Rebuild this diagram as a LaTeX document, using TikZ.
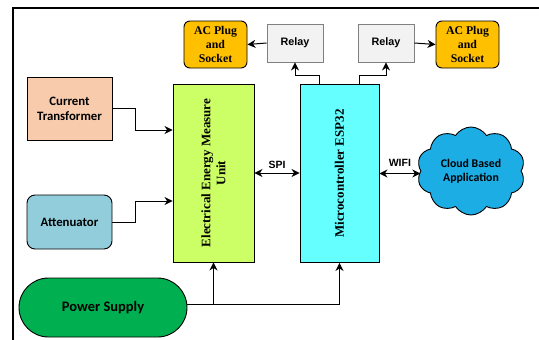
\documentclass[tikz,border=0pt]{standalone}
\usepackage{fontspec}
\setmainfont{Liberation Serif}
\newfontfamily\arialfont{Liberation Sans}
\newfontfamily\calibrifont{Carlito}
\usetikzlibrary{arrows.meta,shapes.symbols,positioning}

\definecolor{plugorange}{HTML}{FFC000}
\definecolor{relaygray}{HTML}{F2F2F2}
\definecolor{ctpeach}{HTML}{F8CBAD}
\definecolor{attblue}{HTML}{92CDDC}
\definecolor{unitlime}{HTML}{CCFF66}
\definecolor{mcucyan}{HTML}{66FFFF}
\definecolor{cloudblue}{HTML}{1CADE4}
\definecolor{psgreen}{HTML}{00B050}

\begin{document}
\begin{tikzpicture}[x=1pt,y=-1pt,
  block/.style={draw=black, line width=0.9pt, inner sep=0pt, align=center},
  plug/.style={block, fill=plugorange, rounded corners=6pt,
    minimum width=63pt, minimum height=47pt,
    font=\fontsize{11.8}{13.7}\selectfont\bfseries},
  relay/.style={block, draw=gray, fill=relaygray,
    minimum width=56pt, minimum height=38pt,
    font=\arialfont\fontsize{10.8}{12}\selectfont\bfseries},
  sensor/.style={block, minimum width=85pt,
    font=\calibrifont\fontsize{12.8}{15}\selectfont\bfseries},
  tall/.style={block, minimum height=178pt},
  arr/.style={line width=1pt, -{Stealth[length=8pt,width=8pt,inset=2.5pt]}},
  dbl/.style={line width=1pt, {Stealth[length=8pt,width=8pt,inset=2.5pt]}-{Stealth[length=8pt,width=8pt,inset=2.5pt]}},
  lbl/.style={font=\arialfont\fontsize{10.5}{12}\selectfont\bfseries, inner sep=1pt}]

\useasboundingbox (0,0) rectangle (539,340);

% outer frame
\draw[line width=1.3pt] (13,350) -- (13,8) -- (550,8);

% relays and sockets along the top
\node[plug] (acl) at (215.5,44.5) {AC Plug\\and\\Socket};
\node[relay] (rl) at (295,43) {Relay};
\node[relay] (rr) at (386,43) {Relay};
\node[plug] (acr) at (467.5,44.5) {AC Plug\\and\\Socket};

% sensing inputs
\node[sensor, fill=ctpeach, minimum height=63pt] (ct) at (69.5,108.5) {Current\\Transformer};
\node[sensor, fill=attblue, minimum height=54pt, rounded corners=8pt] (att) at (69.5,222) {Attenuator};

% main blocks
\node[tall, fill=unitlime, minimum width=81pt] (eemu) at (213.5,173) {};
\node[rotate=90, align=center, font=\fontsize{13}{15}\selectfont\bfseries] at (eemu.center) {Electrical Energy Measure\\Unit};
\node[tall, fill=mcucyan, minimum width=79pt] (mcu) at (339.5,173.5) {};
\node[rotate=90, font=\fontsize{13}{15}\selectfont\bfseries] at (mcu.center) {Microcontroller ESP32};

% cloud
\node[cloud, cloud puffs=10, cloud puff arc=115, cloud ignores aspect,
  draw=black, line width=0.9pt, fill=cloudblue, inner sep=0pt,
  minimum width=108pt, minimum height=88pt, align=center,
  font=\calibrifont\fontsize{11.8}{14}\selectfont\bfseries] (cloud) at (471,171) {Cloud Based\\Application};

% power supply
\node[block, fill=psgreen, rounded corners=29.5pt, minimum width=168pt, minimum height=59pt,
  font=\calibrifont\fontsize{14.5}{16}\selectfont\bfseries] (ps) at (103,307.5) {Power Supply};

% connections
\draw[arr] (ct.east) -- ++(23.5,0) |- ([yshift=43pt]eemu.west);
\draw[arr] (att.east) -- ++(23.5,0) |- ([yshift=-28pt]eemu.west);
\draw[dbl] (eemu.east) -- (eemu.east -| mcu.west) node[lbl, midway, above=3pt] {SPI};
\draw[dbl] (mcu.east) -- (mcu.east -| cloud.west) node[lbl, midway, above=6pt] {WIFI};
\draw[arr] ([xshift=-20.5pt]mcu.north) -- ++(0,-9) -| (rl.south);
\draw[arr] ([xshift=19.5pt]mcu.north) -- ++(0,-9) -| (rr.south);
\draw[arr] (rl.west) -- (acl.east);
\draw[arr] (rr.east) -- (acr.west);
\coordinate (psout) at ([yshift=3pt]ps.east);
\draw[arr] (psout) -| (mcu.south);
\draw[arr] (eemu.south |- psout) -- (eemu.south);

\end{tikzpicture}
\end{document}
